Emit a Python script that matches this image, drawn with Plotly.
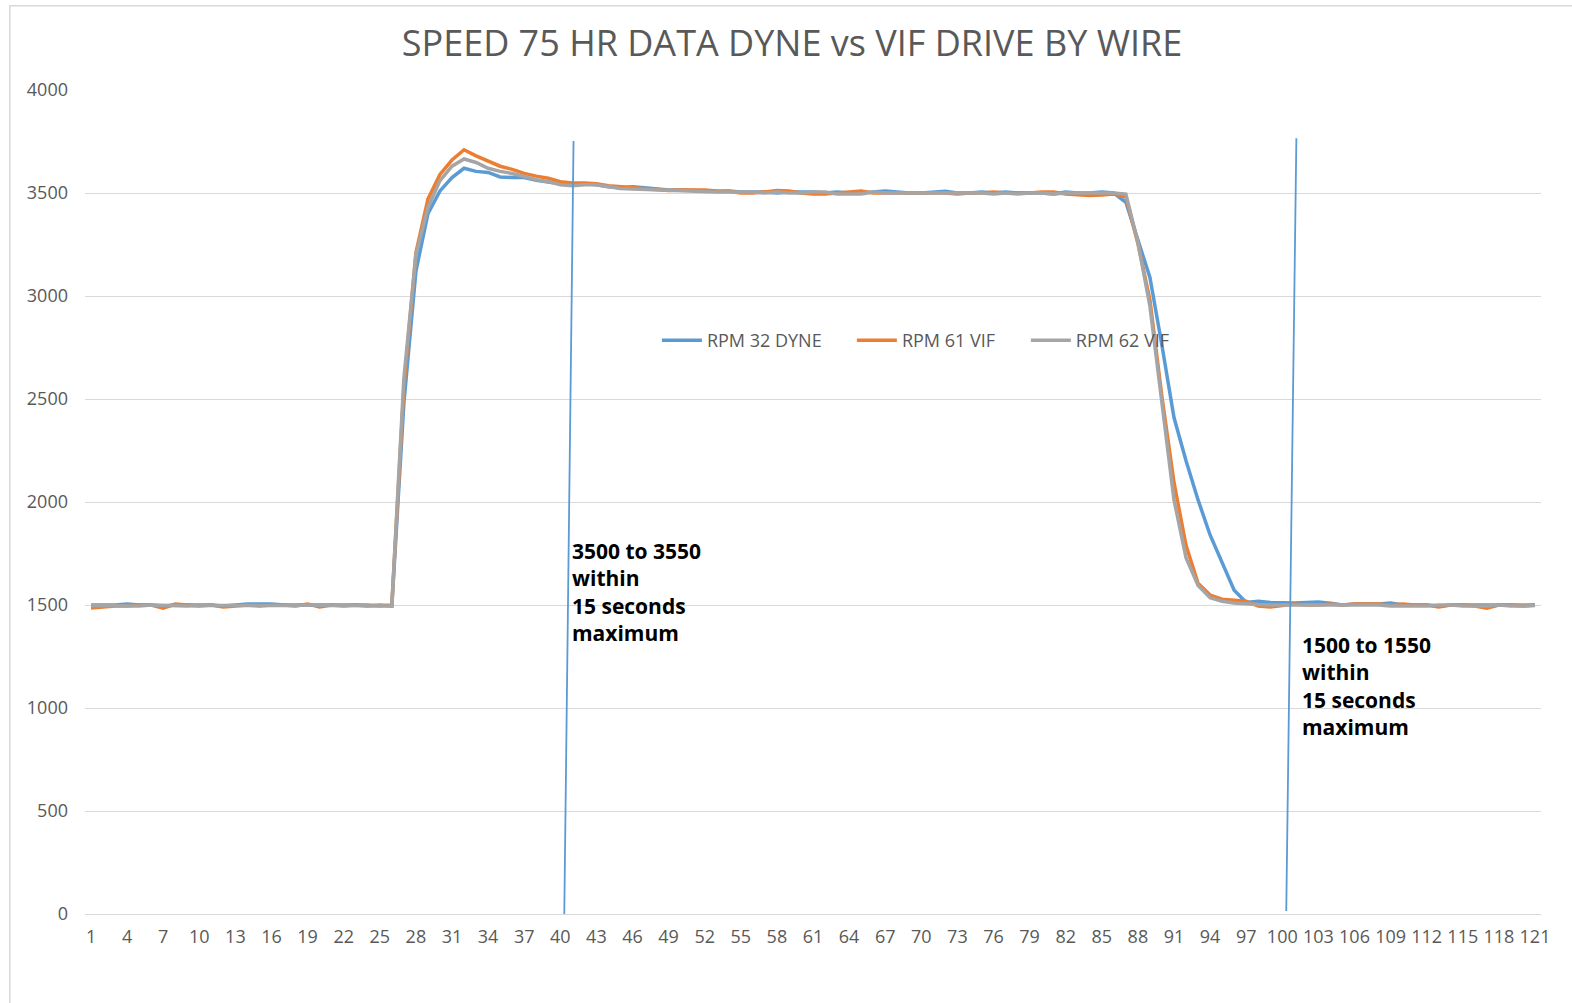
import plotly.graph_objects as go

title_text = "SPEED 75 HR DATA DYNE vs VIF DRIVE BY WIRE"
categories = list(range(1, 122))
tick_labels = [str(c) for c in range(1, 122, 3)]

rpm_32_dyne = [
    1500, 1500, 1500, 1505, 1500, 1500, 1495, 1500, 1500, 1500,
    1500, 1495, 1500, 1505, 1505, 1505, 1500, 1500, 1500, 1500,
    1500, 1500, 1500, 1495, 1500, 1495,
    2480, 3120, 3400, 3510, 3575, 3620, 3605, 3600, 3578, 3575,
    3575, 3562, 3555, 3545, 3545, 3545, 3540, 3530, 3525, 3530,
    3525, 3520, 3515, 3515, 3512, 3510, 3508, 3510, 3505, 3505,
    3505, 3500, 3505, 3505, 3505, 3500, 3505, 3500, 3500, 3505,
    3510, 3505, 3500, 3500, 3505, 3508, 3500, 3500, 3505, 3500,
    3505, 3500, 3500, 3500, 3495, 3505, 3500, 3500, 3505, 3500,
    3455, 3270, 3090, 2760, 2410, 2200, 2010, 1840, 1705, 1572,
    1512, 1518, 1512, 1510, 1510, 1512, 1515, 1508, 1500, 1505,
    1505, 1505, 1510, 1500, 1500, 1500, 1495, 1500, 1500, 1500,
    1500, 1500, 1500, 1495, 1500,
]

rpm_61_vif = [
    1485, 1490, 1495, 1495, 1500, 1500, 1485, 1505, 1500, 1495,
    1500, 1490, 1495, 1500, 1495, 1500, 1500, 1495, 1505, 1490,
    1500, 1495, 1500, 1500, 1495, 1500,
    2560, 3210, 3470, 3590, 3660, 3710, 3680, 3655, 3630, 3615,
    3595, 3582, 3572, 3555, 3548, 3548, 3545, 3535, 3530, 3525,
    3520, 3515, 3512, 3515, 3515, 3515, 3510, 3508, 3500, 3500,
    3505, 3512, 3510, 3500, 3495, 3495, 3500, 3505, 3510, 3500,
    3500, 3500, 3500, 3500, 3500, 3500, 3495, 3500, 3500, 3505,
    3500, 3500, 3500, 3505, 3505, 3495, 3492, 3488, 3490, 3495,
    3482, 3255, 2980, 2510, 2095, 1790, 1605, 1548, 1528, 1522,
    1518, 1495, 1490, 1498, 1505, 1500, 1500, 1505, 1500, 1505,
    1505, 1505, 1500, 1505, 1500, 1500, 1490, 1500, 1500, 1495,
    1485, 1500, 1500, 1500, 1500,
]

rpm_62_vif = [
    1497, 1497, 1497, 1497, 1495, 1500, 1497, 1495, 1495, 1497,
    1497, 1497, 1497, 1495, 1497, 1495, 1497, 1497, 1500, 1497,
    1497, 1497, 1497, 1495, 1495, 1495,
    2600, 3200, 3430, 3560, 3630, 3665, 3648, 3620, 3605, 3595,
    3580, 3565, 3555, 3540, 3535, 3540, 3540, 3530, 3522, 3520,
    3518, 3515, 3510, 3510, 3510, 3505, 3505, 3505, 3505, 3505,
    3500, 3505, 3500, 3500, 3505, 3505, 3495, 3495, 3495, 3505,
    3500, 3500, 3500, 3500, 3500, 3500, 3500, 3500, 3500, 3495,
    3500, 3495, 3500, 3500, 3495, 3500, 3500, 3500, 3500, 3500,
    3495, 3260, 2950, 2470, 2010, 1730, 1595, 1535, 1518, 1510,
    1505, 1502, 1500, 1500, 1500, 1500, 1500, 1500, 1500, 1500,
    1500, 1500, 1495, 1495, 1495, 1495, 1500, 1500, 1495, 1495,
    1495, 1500, 1495, 1495, 1497,
]

series_names = ["RPM 32 DYNE", "RPM 61 VIF", "RPM 62 VIF"]
series_colors = ["#5B9BD5", "#ED7D31", "#A5A5A5"]
series_values = [rpm_32_dyne, rpm_61_vif, rpm_62_vif]

# hand-drawn limit markers: (x_bottom, y_bottom, x_top, y_top)
marker_lines = [
    (40.33, 0, 41.1, 3752),
    (100.33, 15, 101.17, 3766),
]
note_texts = [
    "3500 to 3550<br>within<br>15 seconds<br>maximum",
    "1500 to 1550<br>within<br>15 seconds<br>maximum",
]
note_positions = [(40.8, 1840), (101.5, 1384)]

FONT = "Open Sans"
GREY_TEXT = "#595959"

fig = go.Figure()
legend_ids = ["legend", "legend2", "legend3"]
for name, color, vals, lg in zip(series_names, series_colors, series_values, legend_ids):
    fig.add_trace(go.Scatter(
        x=categories, y=vals, mode="lines", name=name, legend=lg,
        line=dict(color=color, width=3.5),
    ))

for (x0, y0, x1, y1) in marker_lines:
    fig.add_shape(type="line", xref="x", yref="y", x0=x0, y0=y0, x1=x1, y1=y1,
                  line=dict(color="#5B9BD5", width=1.8))

for txt, (ax, ay) in zip(note_texts, note_positions):
    fig.add_annotation(x=ax, y=ay, xref="x", yref="y", text="<b>" + txt + "</b>",
                       showarrow=False, xanchor="left", yanchor="top", align="left",
                       font=dict(family=FONT, size=21, color="#000000"))

# chart-area border
fig.add_shape(type="rect", xref="paper", yref="paper",
              x0=-0.0516, x1=1.03, y0=-0.2, y1=1.1022,
              line=dict(color="#D9D9D9", width=1.5), fillcolor="rgba(0,0,0,0)", layer="below")

legend_style = dict(orientation="h", y=0.696, xanchor="left", yanchor="middle",
                    bgcolor="rgba(0,0,0,0)", font=dict(family=FONT, size=18, color=GREY_TEXT),
                    itemwidth=40)

fig.update_layout(
    width=1572, height=1003,
    margin=dict(l=85, r=31, t=90, b=89),
    paper_bgcolor="white", plot_bgcolor="white",
    title=dict(text=title_text, x=0.5038, xanchor="center", y=0.957, yanchor="middle",
               font=dict(family=FONT, size=36, color=GREY_TEXT)),
    font=dict(family=FONT, color=GREY_TEXT),
    legend=dict(x=0.3928, **legend_style),
    legend2=dict(x=0.5267, **legend_style),
    legend3=dict(x=0.6462, **legend_style),
    showlegend=True,
)
fig.update_xaxes(
    range=[0.5, 121.5], tickmode="array",
    tickvals=list(range(1, 122, 3)), ticktext=tick_labels,
    showgrid=False, zeroline=False, showline=True, linecolor="#D9D9D9", linewidth=1,
    ticks="", tickfont=dict(family=FONT, size=18, color=GREY_TEXT),
    ticklabelstandoff=6,
)
fig.update_yaxes(
    range=[0, 4000], tickmode="array", tickvals=list(range(0, 4001, 500)),
    showgrid=True, gridcolor="#D9D9D9", gridwidth=1, zeroline=False, showline=False,
    ticks="", tickfont=dict(family=FONT, size=18, color=GREY_TEXT),
    ticklabelstandoff=16,
)

fig.write_html("out.html")
